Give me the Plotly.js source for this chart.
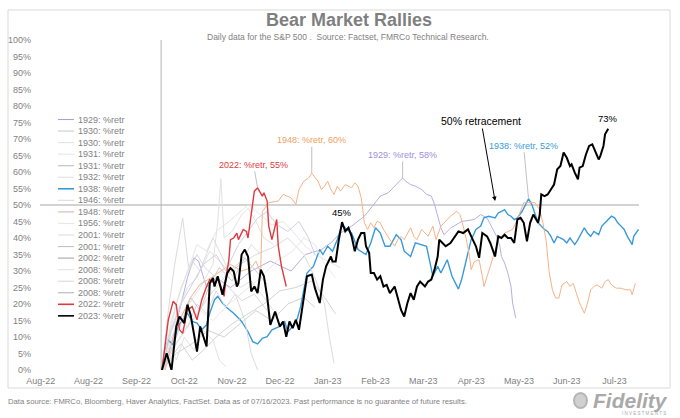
<!DOCTYPE html>
<html>
<head>
<meta charset="utf-8">
<script src="https://cdn.plot.ly/plotly-3.0.1.min.js"></script>
<style>
  html, body { margin: 0; padding: 0; background: #ffffff; }
  #chart { width: 680px; height: 418px; }
</style>
</head>
<body>
<div id="chart"></div>
<script>
// ---------- Data (x = calendar days after 1 Aug 2022 as drawn, y = % retracement) ----------
const tickDays = [0, 30, 60, 90, 120, 150, 180, 210, 240, 270, 300, 330, 360];
const tickLabels = ["Aug-22", "Aug-22", "Sep-22", "Oct-22", "Nov-22", "Dec-22", "Jan-23", "Feb-23", "Mar-23", "Apr-23", "May-23", "Jun-23", "Jul-23"];
const yTicks = [0, 5, 10, 15, 20, 25, 30, 35, 40, 45, 50, 55, 60, 65, 70, 75, 80, 85, 90, 95, 100];
const retracementLevel = 50;
const retracementDay = 285;

const days1929 = [76,82,87,92,96,99,104,110,119,132,144,157,166,176,182,188,195,203,208,213,218,222,225,227,229,232,235,239,242,245,247,249,251,253,257,264,272,276,280,286,288,289,291,293,295,296,298];
const retr1929 = [0,8,18,28,34,33,25,28,25,30,33,30,35,36.5,38.5,41.5,43.6,46.6,49.6,52.7,53.7,55.7,57.2,58.2,57.2,56.2,55.7,54.7,53.2,52.7,50.2,46.6,43.1,41,43,45,45.6,47.1,46,40.5,37.5,34.4,32.4,29.4,25.3,20.3,15.7];

const days1930a = [76,80,84,89,93,98,103,110,118,126,134,142];
const retr1930a = [0,18,32,46,30,35,31,28,25,21,23,18];
const days1930b = [77,82,90,100,108,111,113,115,120,126,130,135,140,146];
const retr1930b = [0,10,18,25,32,45,58,40,42,47,49,45,40,38];
const days1931a = [76,85,92,98,104,110,118,125,130,138,145,152,158,165,172,180,188];
const retr1931a = [0,20,30,38,36,42,45,48,50,47,44,45,42,38,35,33,31];
const days1931b = [76,85,95,105,115,125,135,145,155,165,172];
const retr1931b = [0,5,8,12,10,14,18,15,20,22,19];
const days1932 = [76,82,88,95,100,106,112,118,125,132,140,146];
const retr1932 = [0,15,25,33,30,36,33,30,25,27,22,18];

const days1938 = [76,78,80,83,86,89,92,95,98,101,104,106,109,111,114,117,121,126,130,133,136,139,142,145,150,153,155,158,161,163,165,167,171,173,175,177,180,183,186,189,192,195,199,204,207,210,213,216,219,223,226,228,232,235,239,242,246,249,251,255,258,262,264,267,270,273,276,278,281,285,287,289,291,293,295,297,299,302,305,306,308,310,312,314,316,318,320,322,324,328,330,332,335,337,339,341,343,345,347,350,352,354,356,358,360,362,364,366,368,371,372,374,375];
const retr1938 = [0,6,9.1,7.6,13.2,15.2,17.2,14.7,14.2,12.2,13.7,17.2,21.3,22.3,20.3,18.8,17.2,14.7,11.6,8.6,7.9,9.6,10.1,12.2,13.2,14.7,11.6,13.2,15.7,19.2,24.3,29.4,31.4,34.0,36.5,35.0,37.5,36.0,39.5,44.1,42.6,41.5,36.5,35.0,38.5,43.1,41.5,37.5,37.5,41.0,39.5,36.0,34.4,38.5,38.0,37.5,28.4,31.4,29.4,33.4,28.4,24.5,27.4,33.4,39.5,42.6,43.6,46.1,46.6,46.1,47.6,48.1,48.6,47.1,46.6,45.6,46.1,48.1,50.7,51.9,50.2,47.6,44.6,43.6,42.6,42.0,40.5,38.5,40.5,39.5,38.5,40.0,38.0,39.5,41.5,43.1,41.5,40.5,42.0,41.0,43.6,44.6,45.6,46.6,46.1,44.6,43.6,42.6,40.5,38.0,40.5,42.0,42.6];

const days1946 = [77,85,95,105,115,125,135,145,155,165,172,178,181,184];
const retr1946 = [0,8,15,22,28,32,35,37,40,35,28,20,10,2];

const days1948 = [78,82,87,94,100,107,113,119,126,132,135,137,138,139,143,149,152,157,160,162,165,168,170,174,176,178,180,182,184,186,188,191,195,197,199,201,202,203,205,207,209,211,213,215,219,222,224,226,228,230,232,234,236,239,241,243,246,248,251,254,257,261,263,265,267,269,270,272,275,277,278,282,285,287,291,296,299,303,310,313,315,317,319,321,323,325,327,330,332,334,336,338,341,343,345,347,349,352,354,356,358,361,364,367,370,371,373];
const retr1948 = [0,8,15,22,26,28,30,32,30,31,33,30.5,31,48,50.7,51.2,53.2,52.2,50.2,54.7,57.2,58.2,59.6,57.2,54.7,55.7,57.2,54.7,53.2,55.7,54.2,56.2,55.2,56.7,55.7,52.2,48.6,44.6,42.6,44.6,43.1,45.1,44.6,42.6,39.5,37.5,39.5,40.5,39.5,41.5,43.1,40.5,39.5,42.6,41.5,40.5,43.6,39.5,43.6,45.1,46.6,48.1,47.1,43.6,39.5,34.4,30.4,32.9,33.4,28.4,25.3,31.4,36.5,39.5,41.5,42.6,45.6,50.7,50.7,48.6,44.6,39.5,29.4,24.3,21.8,21.8,25.8,26.8,25.3,26.3,23.3,20.3,17.2,20.3,24.3,25.3,25.8,24.8,26.8,27.4,25.8,24.8,24.8,24.3,24.3,22.8,26.3];

const days1956 = [76,82,90,100,108,118,128,138,148,158,165,172,178,185];
const retr1956 = [0,6,12,18,15,20,24,28,33,36,40,38,32,28];
const days2001a = [76,80,86,92,98,104,108,112,118,126,132,138];
const retr2001a = [0,10,18,25,28,35,40,36,30,33,38,35];
const days2001b = [76,82,88,95,102,110,120,130,140,150,160,170,178,185];
const retr2001b = [0,4,8,3,6,10,14,17,20,24,25,27,22,17];
const days2002 = [76,82,88,96,102,110,116,124,130,136,142,148,155,162,168,172];
const retr2002 = [0,12,20,27,32,35,30,38,42,46,48,44,42,45,40,35];
const days2008a = [76,81,85,90,96,102,108,112,116];
const retr2008a = [0,8,3,10,6,12,9,3,1];
const days2008b = [76,80,86,92,98,104,110,116,122,128,132,136];
const retr2008b = [0,10,16,13,20,17,24,19,23,15,5,0];
const days2008c = [76,82,88,94,100,106,112,120,128,135,142];
const retr2008c = [0,6,14,22,18,26,31,27,34,30,26];

const days2022 = [76,78,80,83,85,87,89,92,95,98,101,104,106,109,111,113,115,116,118,119,121,123,124,127,129,130,132,134,136,139,140,142,143,145,148,149,151,153,154];
const retr2022 = [0,8.1,15.2,20.8,19.8,12.2,11.1,18.2,19.2,15.2,21.3,25.3,27.4,26.3,27.4,25.3,22.3,27.4,33.4,39.5,40.0,41.5,39.5,42.6,42.0,40.0,46.6,54.2,55.2,52.7,53.7,51.2,43.6,39.5,45.6,37.5,31.4,27.4,25.3];

const days2023 = [76,79,82,85,87,90,92,94,98,100,104,106,108,109,111,114,117,119,121,123,124,126,128,130,132,134,136,138,140,142,144,147,150,152,154,156,158,160,162,164,167,170,172,175,177,179,182,183,185,187,189,191,193,195,197,199,201,203,204,206,207,209,211,213,215,217,219,222,224,226,228,230,232,234,236,238,241,243,245,247,249,250,252,254,257,262,265,268,271,273,275,277,280,282,285,287,289,291,293,295,297,299,301,303,305,307,309,312,313,314,316,318,320,322,324,326,328,330,332,333,335,337,338,340,342,344,346,348,350,351,353,354,356];
const retr2023 = [0,5.1,0,13.2,16.2,14.2,19.8,16.7,5.6,13.2,7.1,26.3,27.9,25.3,28.4,22.8,29.4,30.9,29.9,25.3,26.3,35.0,36.5,34.4,23.8,25.3,23.3,30.4,28.4,22.3,13.7,17.7,13.2,14.7,10.1,14.7,12.7,15.2,12.2,19.2,28.4,28.9,24.8,20.3,27.4,31.4,34.4,32.9,32.9,39.5,44.8,42.0,43.1,40.5,36.0,39.5,41.5,41.5,37.5,35.5,29.4,29.4,27.4,28.4,25.3,25.8,23.3,25.3,21.3,18.2,16.2,20.3,23.3,21.3,25.3,26.8,25.3,26.8,27.4,30.4,34.4,39.5,38.5,37.5,38.5,42.0,41.5,42.6,39.5,37.5,34.0,41.5,40.5,38.5,34.4,40.5,40.0,41.0,40.0,40.0,38.5,45.6,46.1,44.6,39.0,44.6,47.1,44.6,47.1,53.2,52.7,53.2,54.7,56.2,60.8,61.8,65.9,64.3,61.8,62.3,59.8,57.8,61.3,61.8,65.3,67.9,68.4,65.9,63.8,64.8,67.9,71.4,73.1];

// ---------- Styling ----------
const FONT = 'Arial, "Liberation Sans", sans-serif';
const GREY_TEXT = '#7f7f7f';
const series = [
  {name: '1929: %retr', x: days1929, y: retr1929, color: '#b8aee2', width: 1, key: '#a9a3c9'},
  {name: '1930: %retr', x: days1930a, y: retr1930a, color: '#dadada', width: 1, key: '#cccccc'},
  {name: '1930: %retr', x: days1930b, y: retr1930b, color: '#e2e2e2', width: 1},
  {name: '1931: %retr', x: days1931a, y: retr1931a, color: '#e6e6e6', width: 1},
  {name: '1931: %retr', x: days1931b, y: retr1931b, color: '#d2d2d2', width: 1, key: '#bdbdbd'},
  {name: '1932: %retr', x: days1932, y: retr1932, color: '#e0e0e0', width: 1},
  {name: '1938: %retr', x: days1938, y: retr1938, color: '#3a9ad9', width: 1.4},
  {name: '1946: %retr', x: days1946, y: retr1946, color: '#dcdcdc', width: 1},
  {name: '1948: %retr', x: days1948, y: retr1948, color: '#f4b388', width: 1, key: '#c8bdb4'},
  {name: '1956: %retr', x: days1956, y: retr1956, color: '#e8e8e8', width: 1},
  {name: '2001: %retr', x: days2001a, y: retr2001a, color: '#dedede', width: 1},
  {name: '2001: %retr', x: days2001b, y: retr2001b, color: '#d4d4d4', width: 1, key: '#c2c2c2'},
  {name: '2002: %retr', x: days2002, y: retr2002, color: '#d2cfe6', width: 1, key: '#a8a8a8'},
  {name: '2008: %retr', x: days2008a, y: retr2008a, color: '#e2e2e2', width: 1},
  {name: '2008: %retr', x: days2008b, y: retr2008b, color: '#dadada', width: 1},
  {name: '2008: %retr', x: days2008c, y: retr2008c, color: '#cbcbcb', width: 1, key: '#b5b5b5'},
  {name: '2022: %retr', x: days2022, y: retr2022, color: '#e0393e', width: 1.4},
  {name: '2023: %retr', x: days2023, y: retr2023, color: '#000000', width: 2}
];

const traces = series.map(s => ({
  type: 'scatter', mode: 'lines', name: s.name, x: s.x, y: s.y,
  line: {color: s.color, width: s.width, shape: 'linear'},
  hoverinfo: 'skip', showlegend: false
}));

// plot-area geometry in pixels (for legend / frame placement in paper units)
const PLOT = {left: 40, right: 639, top: 40, bottom: 370};
const px2paperX = px => (px - PLOT.left) / (PLOT.right - PLOT.left);
const px2paperY = py => (PLOT.bottom - py) / (PLOT.bottom - PLOT.top);

const shapes = [];
const annotations = [];

// custom compact legend
const LEG = {lineX0: 58, lineX1: 74, textX: 76, firstY: 119.5, step: 11.55};
series.forEach((s, i) => {
  const yy = px2paperY(LEG.firstY + i * LEG.step);
  shapes.push({type: 'line', xref: 'paper', yref: 'paper',
    x0: px2paperX(LEG.lineX0), x1: px2paperX(LEG.lineX1), y0: yy, y1: yy,
    line: {color: s.key || s.color, width: s.width >= 1.4 ? 1.6 : 1.1}});
  annotations.push({xref: 'paper', yref: 'paper', x: px2paperX(LEG.textX), y: yy,
    xanchor: 'left', yanchor: 'middle', text: s.name, showarrow: false,
    font: {family: FONT, size: 9, color: GREY_TEXT}});
});

function peakIndex(arr, keep) {
  let best = -1;
  for (let i = 0; i < arr.length; i++) {
    if (keep && !keep(i)) continue;
    if (best < 0 || arr[i] > arr[best]) best = i;
  }
  return best;
}

function peakLabel(days, vals, year, color, ax, ay) {
  const i = peakIndex(vals);
  annotations.push({
    x: days[i], y: vals[i], xref: 'x', yref: 'y',
    text: year + ': %retr, ' + Math.round(vals[i]) + '%',
    showarrow: true, arrowhead: 0, arrowwidth: 0.8, arrowcolor: '#b0b0b0',
    ax: ax, ay: ay, standoff: 0,
    font: {family: FONT, size: 9, color: color}
  });
}
peakLabel(days2022, retr2022, '2022', '#e0393e', -4, -23);
peakLabel(days1948, retr1948, '1948', '#f0a060', 0, -33);
peakLabel(days1929, retr1929, '1929', '#9d8fe0', 0, -23);
peakLabel(days1938, retr1938, '1938', '#3a9ad9', -5, -53);

// 2023: first high (winter) and latest value
const firstHigh = peakIndex(retr2023, i => days2023[i] < 200);
annotations.push({
  x: days2023[firstHigh], y: retr2023[firstHigh], xref: 'x', yref: 'y',
  text: Math.round(retr2023[firstHigh]) + '%', showarrow: false, yshift: 10,
  font: {family: FONT, size: 9.5, color: '#000000'}
});
const last = retr2023.length - 1;
annotations.push({
  x: days2023[last], y: retr2023[last], xref: 'x', yref: 'y',
  text: Math.round(retr2023[last]) + '%', showarrow: false, yshift: 10,
  font: {family: FONT, size: 9.5, color: '#000000'}
});
// 50% retracement arrow
annotations.push({
  x: retracementDay, y: retracementLevel, xref: 'x', yref: 'y',
  text: '50% retracement', showarrow: true, arrowhead: 2, arrowsize: 0.9,
  arrowwidth: 1, arrowcolor: '#000000', ax: -14, ay: -80, yshift: 4,
  font: {family: FONT, size: 10.5, color: '#000000'}
});
// subtitle, footer, logo
annotations.push({
  xref: 'paper', yref: 'paper', x: px2paperX(348), y: px2paperY(37), xanchor: 'center', yanchor: 'middle',
  text: 'Daily data for the S&P 500 .  Source: Factset, FMRCo Technical Research.',
  showarrow: false, font: {family: FONT, size: 8.5, color: GREY_TEXT}
});
annotations.push({
  xref: 'paper', yref: 'paper', x: px2paperX(6), y: px2paperY(401), xanchor: 'left', yanchor: 'middle',
  text: 'Data source: FMRCo, Bloomberg, Haver Analytics, FactSet. Data as of 07/16/2023. Past performance is no guarantee of future results.',
  showarrow: false, font: {family: FONT, size: 7.7, color: GREY_TEXT}
});
annotations.push({
  xref: 'paper', yref: 'paper', x: px2paperX(670), y: px2paperY(400), xanchor: 'right', yanchor: 'middle',
  text: '<b><i>Fidelity</i></b>', showarrow: false,
  font: {family: FONT, size: 21, color: '#a9a9a9'}
});
annotations.push({
  xref: 'paper', yref: 'paper', x: px2paperX(668), y: px2paperY(413), xanchor: 'right', yanchor: 'middle',
  text: 'I N V E S T M E N T S', showarrow: false,
  font: {family: FONT, size: 4.5, color: '#a9a9a9'}
});

// frame, 50% line (x-axis crossing), start-date vertical, logo mark
shapes.push(
  {type: 'rect', xref: 'paper', yref: 'paper', x0: px2paperX(8), x1: px2paperX(670), y0: px2paperY(388), y1: px2paperY(10),
   line: {color: '#d9d9d9', width: 1}, fillcolor: 'rgba(0,0,0,0)', layer: 'below'},
  {type: 'line', xref: 'paper', yref: 'y', x0: 0, x1: 1, y0: retracementLevel, y1: retracementLevel,
   line: {color: '#a6a6a6', width: 1}, layer: 'below'},
  {type: 'line', xref: 'x', yref: 'paper', x0: days2023[0] - 0.5, x1: days2023[0] - 0.5, y0: 0, y1: 1,
   line: {color: '#b5b5b5', width: 1}, layer: 'below'},
  {type: 'circle', xref: 'paper', yref: 'paper', x0: px2paperX(574), x1: px2paperX(587), y0: px2paperY(408), y1: px2paperY(393),
   line: {color: '#b5b5b5', width: 2}, fillcolor: '#d0d0d0'}
);

const layout = {
  width: 680, height: 418,
  margin: {l: PLOT.left, r: 680 - PLOT.right, t: PLOT.top, b: 418 - PLOT.bottom, pad: 0},
  paper_bgcolor: '#ffffff', plot_bgcolor: '#ffffff',
  font: {family: FONT, color: GREY_TEXT, size: 9},
  title: {
    text: '<b>Bear Market Rallies</b>',
    font: {family: FONT, size: 18, color: GREY_TEXT},
    x: px2paperX(349), xref: 'paper', xanchor: 'center', y: 1 - 20 / 418, yref: 'container', yanchor: 'middle'
  },
  showlegend: false,
  xaxis: {
    range: [-0.5, 375.3], showgrid: false, zeroline: false, showline: false,
    tickmode: 'array', tickvals: tickDays, ticktext: tickLabels, ticks: '',
    ticklabelstandoff: 4,
    tickfont: {family: FONT, size: 9, color: GREY_TEXT}, fixedrange: true
  },
  yaxis: {
    range: [0, 100], showgrid: false, zeroline: false, showline: false,
    tickmode: 'array', tickvals: yTicks, ticktext: yTicks.map(v => v + '%'), ticks: '',
    ticklabelstandoff: 8,
    tickfont: {family: FONT, size: 9, color: GREY_TEXT}, fixedrange: true
  },
  shapes: shapes,
  annotations: annotations
};

Plotly.newPlot('chart', traces, layout, {staticPlot: true, displayModeBar: false});
</script>
</body>
</html>
